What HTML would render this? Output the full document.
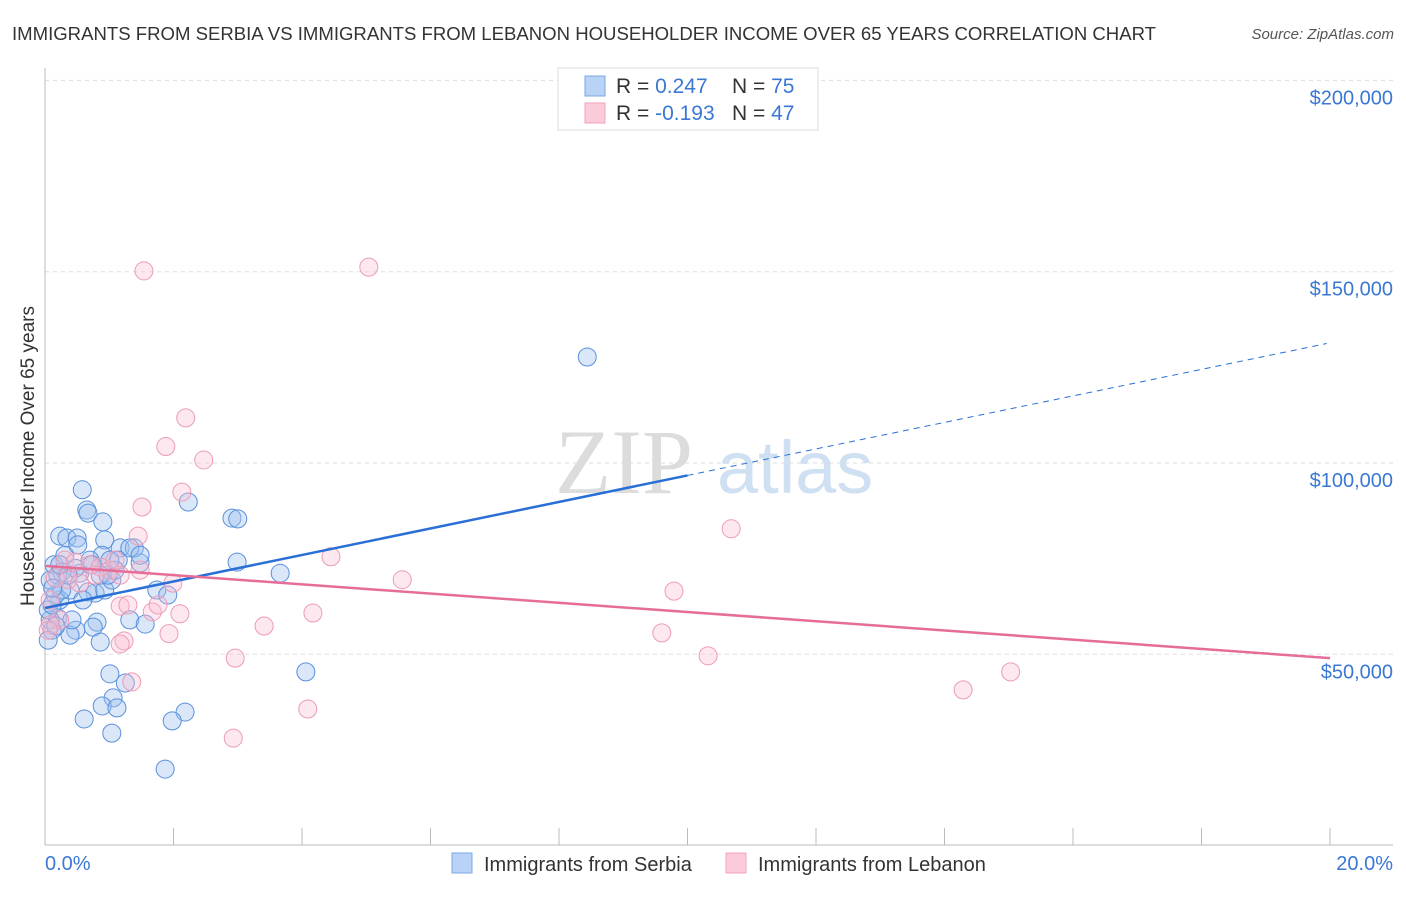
<!DOCTYPE html>
<html><head><meta charset="utf-8"><style>
body{margin:0;background:#fff;font-family:"Liberation Sans",sans-serif;}
</style></head><body>
<svg id="chart" width="1406" height="892" xmlns="http://www.w3.org/2000/svg" font-family="Liberation Sans, sans-serif">
<text x="12" y="40" font-size="18" fill="#333" textLength="1144" lengthAdjust="spacingAndGlyphs">IMMIGRANTS FROM SERBIA VS IMMIGRANTS FROM LEBANON HOUSEHOLDER INCOME OVER 65 YEARS CORRELATION CHART</text>
<text x="1394" y="39" font-size="15" fill="#555" font-style="italic" text-anchor="end">Source: ZipAtlas.com</text>
<g>
<text x="555" y="493" font-size="92" font-family="Liberation Serif, serif" fill="#dcdcdc">ZIP</text>
<text x="717" y="493" font-size="74" fill="#cfe0f3">atlas</text>
</g>
<g id="grid"></g><g id="axes"></g><g id="marks"></g>
<text transform="translate(34,456) rotate(-90)" font-size="19" fill="#333" text-anchor="middle">Householder Income Over 65 years</text>
<g>
<rect x="558" y="68" width="260" height="62" fill="#fff" stroke="#ddd"/>
<rect x="585" y="76" width="20" height="20" fill="#b8d3f5" stroke="#7aa8e6"/>
<rect x="585" y="103" width="20" height="20" fill="#fccbd9" stroke="#efa3bb"/>
<text x="616" y="93" font-size="21" fill="#333">R = <tspan fill="#3a78d4"> 0.247</tspan><tspan x="732">N = </tspan><tspan fill="#3a78d4">75</tspan></text>
<text x="616" y="120" font-size="21" fill="#333">R = <tspan fill="#3a78d4">-0.193</tspan><tspan x="732">N = </tspan><tspan fill="#3a78d4">47</tspan></text>
</g>
<g>
<rect x="452" y="853" width="20" height="20" fill="#b8d3f5" stroke="#7aa8e6"/>
<text x="484" y="871" font-size="20" fill="#333">Immigrants from Serbia</text>
<rect x="726" y="853" width="20" height="20" fill="#fccbd9" stroke="#efa3bb"/>
<text x="758" y="871" font-size="20" fill="#333">Immigrants from Lebanon</text>
</g>
</svg>
<script>
const yTicks=[50000,100000,150000,200000];
const yTickLabels=["$50,000","$100,000","$150,000","$200,000"];
const xTickLabels=["0.0%","20.0%"];
const serbiaX=[0.58,0.65,0.67,0.90,0.23,0.34,0.50,0.14,0.93,1.17,0.89,1.14,1.48,1.39,1.32,1.74,1.91,2.23,2.91,3.00,2.99,3.66,8.44,4.06,1.01,1.25,1.06,0.89,1.12,0.61,1.04,2.18,1.98,1.87,1.32,1.56,0.20,0.81,0.75,0.48,0.39,0.86,0.11,0.08,0.23,0.16,0.39,0.78,0.67,0.93,1.04,1.09,0.54,0.47,0.26,0.08,0.05,0.20,0.31,0.70,0.51,0.86,0.98,0.42,0.17,0.26,0.59,0.36,0.11,0.12,0.73,1.01,1.48,0.23,0.05];
const serbiaY=[93.0,87.7,86.9,84.6,80.9,80.4,80.4,73.4,79.9,77.8,75.9,74.6,73.9,77.8,77.8,66.8,65.5,89.8,85.6,85.4,74.1,71.2,127.7,45.4,44.9,42.5,38.6,36.5,36.0,33.1,29.4,34.9,32.6,20.0,59.0,57.9,59.5,58.4,57.1,56.3,55.0,53.2,56.3,59.0,64.2,65.5,66.8,66.0,66.3,66.8,69.4,72.0,71.2,72.5,71.5,69.4,61.6,70.7,75.9,74.6,78.6,70.7,70.7,59.0,57.4,66.8,64.2,70.7,62.9,67.3,73.4,74.6,75.9,73.4,53.7];
const lebanonX=[1.54,5.04,2.19,1.88,2.47,2.13,1.51,1.45,10.68,4.45,5.56,9.79,4.17,2.10,1.67,3.41,1.93,1.23,1.17,9.60,10.32,2.96,14.29,15.03,4.09,2.93,1.35,1.17,1.29,0.23,0.08,0.31,0.47,0.70,0.86,1.01,0.16,0.36,0.54,1.17,0.78,1.48,1.09,1.99,1.76,0.08,0.05];
const lebanonY=[150.2,151.2,111.8,104.3,100.8,92.4,88.5,80.9,82.8,75.5,69.5,66.5,60.8,60.6,61.1,57.4,55.4,53.5,52.7,55.6,49.6,49.0,40.7,45.4,35.7,28.1,42.8,62.6,62.9,59.0,57.7,74.6,74.1,73.4,72.8,72.0,70.0,69.5,68.6,70.7,70.7,72.0,74.6,68.6,62.9,64.2,56.3];
const serbiaTrend=[62.1,131.4];
const lebanonTrend=[73.1,49.0];
const NS="http://www.w3.org/2000/svg";
const X=p=>45+p/20*1285;
const Y=v=>845.6-v/50000*191.3;
const Yk=k=>Y(k*1000);
function mk(tag,at,parent){const e=document.createElementNS(NS,tag);for(const k in at)e.setAttribute(k,at[k]);document.getElementById(parent).appendChild(e);return e;}
yTicks.forEach((t,i)=>{
 const g=mk('line',{x1:45,x2:1393,y1:Y(t),y2:Y(t),stroke:'#ddd','stroke-dasharray':'4,4'},'grid');
 
 
 const l=mk('text',{x:1393,y:Y(t)+24,'font-size':20,fill:'#3a78d4','text-anchor':'end'},'grid');
 l.textContent=yTickLabels[i];
 
 
});
const ax=mk('line',{x1:45,x2:45,y1:68,y2:845,stroke:'#bbb'},'axes');


const bx=mk('line',{x1:45,x2:1393,y1:845,y2:845,stroke:'#bbb'},'axes');


for(let i=0;i<=10;i++){
 const t=mk('line',{x1:X(i*2),x2:X(i*2),y1:828,y2:845,stroke:'#bbb'},'axes');
 
 
}
const xl0=mk('text',{x:45,y:870,'font-size':20,fill:'#3a78d4'},'axes');xl0.textContent=xTickLabels[0];


const xl1=mk('text',{x:1393,y:870,'font-size':20,fill:'#3a78d4','text-anchor':'end'},'axes');xl1.textContent=xTickLabels[1];


serbiaX.forEach((x,i)=>{
 const c=mk('circle',{cx:X(x),cy:Yk(serbiaY[i]),r:9,fill:'rgba(160,196,240,0.4)',stroke:'#5a90dc','stroke-width':1},'marks');
 
 
});
lebanonX.forEach((x,i)=>{
 const c=mk('circle',{cx:X(x),cy:Yk(lebanonY[i]),r:9,fill:'rgba(248,190,208,0.35)',stroke:'#ec9cb6','stroke-width':1},'marks');
 
 
});
const sm=serbiaTrend[0]+(serbiaTrend[1]-serbiaTrend[0])*0.5;
const s1=mk('line',{x1:X(0),y1:Yk(serbiaTrend[0]),x2:X(10),y2:Yk(sm),stroke:'#2a6fd6','stroke-width':2.5},'marks');


const s2=mk('line',{x1:X(10),y1:Yk(sm),x2:X(19.95),y2:Yk(serbiaTrend[0]+(serbiaTrend[1]-serbiaTrend[0])*0.9975),stroke:'#2a6fd6','stroke-width':1,'stroke-dasharray':'6,5'},'marks');


const p1=mk('line',{x1:X(0),y1:Yk(lebanonTrend[0]),x2:X(20),y2:Yk(lebanonTrend[1]),stroke:'#e66d98','stroke-width':2.5},'marks');


</script>
</body></html>
